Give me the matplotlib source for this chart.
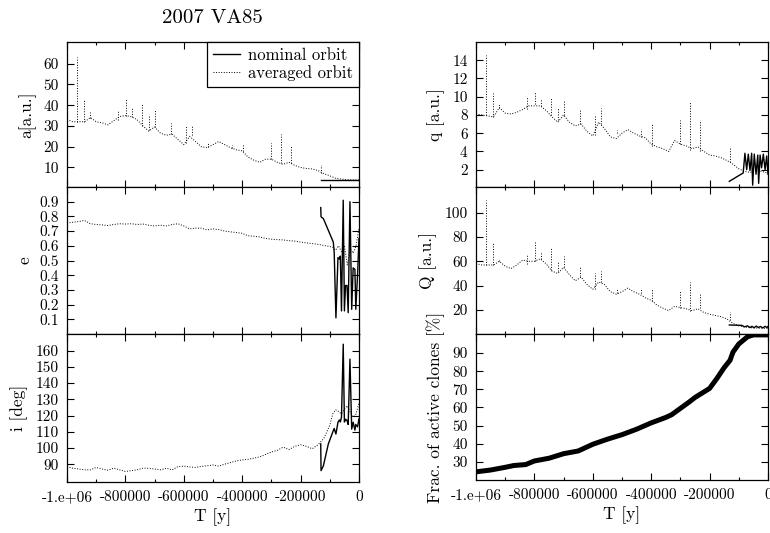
import numpy as np
import matplotlib
matplotlib.use("Agg")
import matplotlib.pyplot as plt
from matplotlib.ticker import MultipleLocator

plt.rcParams['font.family'] = ['cmr10', 'DejaVu Serif']
plt.rcParams['axes.formatter.use_mathtext'] = True

title = "2007 VA85"

# time grid of the averaged a, q, Q curves [y]
T_avg = [-1000000, -980000, -960000, -940000, -920000, -900000, -880000, -860000, -840000,
         -820000, -800000, -780000, -760000, -740000, -720000, -700000, -680000, -660000,
         -640000, -620000, -600000, -580000, -560000, -540000, -520000, -500000, -480000,
         -460000, -440000, -420000, -400000, -380000, -360000, -340000, -320000, -300000,
         -280000, -260000, -240000, -220000, -200000, -180000, -160000, -140000, -120000,
         -100000, -80000, -60000, -40000, -20000, 0]
a_avg = [33, 32, 32, 32, 34, 32, 31.5, 30.5, 32.5, 34.5, 35, 34.5, 33, 30, 27.5, 29.5,
         26.5, 25.5, 26, 23.5, 21, 25, 22.5, 20, 19.5, 21, 22.5, 21, 19.5, 18.5, 18, 15,
         13.5, 12.5, 14, 14, 12.5, 11.5, 12.5, 11, 10, 9.5, 9.3, 8.5, 7, 6, 4.8, 4.4, 4.1,
         4, 4]
q_avg = [8.1, 8, 7.9, 7.8, 8.8, 8.2, 8.1, 8.3, 8.6, 9, 9, 9, 8.5, 7.8, 7.2, 8, 7.2, 6.8,
         7, 6.2, 5.7, 7.2, 6.5, 5.6, 5.4, 6, 6.4, 6, 5.7, 5.5, 4.8, 4.5, 4.3, 4, 5.2, 4.8,
         4.6, 4.3, 4.5, 4, 3.6, 3.5, 3.3, 3, 2.6, 2.1, 1.8, 1.7, 1.9, 1.8, 1.6]
Q_avg = [58, 57, 57, 57, 60, 56, 54, 57, 61, 60, 60, 62, 58, 52, 50, 55, 49, 44, 47, 41,
         37, 43, 41, 35, 33, 35, 38, 35, 33, 30, 28, 24, 21.5, 19.5, 23, 22, 21, 19.5, 21,
         18, 16.5, 15.5, 14.5, 12.5, 9, 7, 6, 5.5, 5.2, 5, 5]

# spikes of the averaged orbit (shared times), base and peak values
T_spk = [-967000, -941000, -920000, -826000, -798000, -778000, -742000, -718000, -700000,
         -644000, -594000, -573000, -518000, -434000, -397000, -302000, -267000, -232000,
         -131000]
a_spk_base = [32, 32, 34, 33, 35, 34.5, 30, 28, 29.5, 26, 22, 25.5, 20, 19.5, 18, 14, 12, 12, 7.5]
a_spk_peak = [63, 42.5, 36.5, 37, 43.5, 38.5, 40.5, 35, 37.5, 31.5, 30.5, 30.5, 22.5, 21, 21.5,
              22, 26, 20.5, 11]
q_spk_base = [8, 7.8, 8.8, 8.6, 9.2, 9, 8, 7.5, 8, 7, 5.8, 7, 6, 5.6, 4.6, 4.8, 4.2, 4, 2.8]
q_spk_peak = [14.6, 10.4, 9.3, 10, 10.5, 9.7, 10, 8.8, 9.5, 8.6, 8, 8.8, 6.4, 6.5, 7, 7.5,
              9.5, 7.4, 4.5]
Q_spk_base = [57, 57, 60, 58, 60, 62, 53, 52, 55, 48, 37, 43, 34, 34, 27, 22, 19, 22, 12]
Q_spk_peak = [110, 75, 62, 66, 76, 68, 72, 60, 64, 56, 50, 52, 37, 37, 37, 36, 43, 34, 18]

# averaged e and i
T_ei = [-1000000, -980000, -960000, -940000, -920000, -900000, -880000, -860000, -840000,
        -820000, -800000, -780000, -760000, -740000, -720000, -700000, -680000, -660000,
        -640000, -620000, -600000, -580000, -560000, -540000, -520000, -500000, -480000,
        -460000, -440000, -420000, -400000, -380000, -360000, -340000, -320000, -300000,
        -280000, -260000, -240000, -220000, -200000, -180000, -160000, -140000, -120000,
        -100000, -90000, -80000, -70000, -60000, -50000, -40000, -30000, -20000, -10000, 0]
e_avg = [0.755, 0.76, 0.765, 0.772, 0.75, 0.745, 0.742, 0.738, 0.745, 0.75, 0.748, 0.75,
         0.745, 0.748, 0.74, 0.735, 0.74, 0.735, 0.745, 0.75, 0.735, 0.715, 0.72, 0.72,
         0.708, 0.715, 0.71, 0.7, 0.695, 0.69, 0.685, 0.668, 0.665, 0.66, 0.65, 0.645,
         0.642, 0.64, 0.635, 0.632, 0.625, 0.62, 0.615, 0.61, 0.602, 0.595, 0.59, 0.57,
         0.6, 0.56, 0.6, 0.47, 0.58, 0.55, 0.6, 0.72]
i_avg = [88.5, 87.5, 87, 86.5, 86.5, 88, 87, 86.3, 87.5, 86.5, 85.5, 86, 86.5, 87.5, 87.5,
         87, 86.5, 87.5, 86.5, 88.5, 88.8, 88.3, 88, 88.6, 89, 89.5, 88.8, 90, 91, 92, 92.6,
         93, 93.7, 94.5, 96, 97.5, 98.5, 100.5, 99, 101, 102, 101, 99.5, 102, 106, 114, 121,
         123.5, 122.5, 121, 124, 126, 122, 119, 121, 128]

# nominal orbit
T_nom = [-131000, -130000, -122000, -105000, -88000, -85000, -79000, -72000, -67000,
         -64000, -60000, -54000, -50000, -46000, -41000, -37000, -31000, -25000, -20000,
         -14000, -11000, -5000, 0]
e_nom = [0.86, 0.797, 0.785, 0.705, 0.625, 0.557, 0.11, 0.52, 0.51, 0.53, 0.157, 0.91,
         0.157, 0.33, 0.33, 0.145, 0.9, 0.168, 0.45, 0.44, 0.168, 0.4, 0.65]
i_nom = [102.5, 86, 89, 102.5, 110.7, 112, 108.6, 115.9, 117.3, 116, 119, 164, 116,
         117.7, 117, 114.5, 154.8, 111.6, 115.9, 111, 114.5, 113, 118]
T_a_nom = [-131000, 0]
a_nom = [4.0, 4.0]
T_q_nom = [-132500, -85000, -79000, -73000, -67500, -61600, -56000, -52500, -47000, -41000,
           -35000, -32000, -27000, -22000, -16000, -10000, -4500, 0]
q_nom = [0.72, 1.64, 3.8, 2.0, 3.7, 1.9, 3.8, 0.3, 3.7, 1.5, 3.6, 0.5, 3.6, 2.2, 3.7, 2.0,
         3.5, 1.5]
T_Q_nom = [-132500, -90000, -80000, -70000, -62000, -55000, -48000, -40000, -33000,
           -26000, -18000, -10000, -4000, 0]
Q_nom = [7.7, 7.4, 6.2, 7.0, 5.6, 6.6, 5.4, 6.8, 5.6, 6.5, 5.3, 6.6, 5.6, 6.5]

# fraction of active clones [%]
T_frac = [-1000000, -950000, -900000, -870000, -830000, -800000, -750000, -700000, -650000,
          -600000, -550000, -500000, -450000, -400000, -350000, -330000, -300000, -270000,
          -250000, -200000, -175000, -150000, -130000, -120000, -100000, -70000, -50000, 0]
frac = [24.5, 25.5, 27, 28, 28.5, 30.5, 32, 34.5, 36, 39.7, 42.5, 45, 48, 51.5, 54.5, 56,
        59.5, 63, 65.5, 70.5, 76, 82, 86, 90.5, 95, 99, 100, 100]

xticks = [-1000000, -800000, -600000, -400000, -200000, 0]
xticklabels = ['-1.e+06', '-800000', '-600000', '-400000', '-200000', '0']

fig = plt.figure(figsize=(7.7, 5.33), dpi=100)
W, H = 770, 533


def box(x0, y0, x1, y1):
    return [x0 / W, 1 - y1 / H, (x1 - x0) / W, (y1 - y0) / H]


ax_a = fig.add_axes(box(67, 42, 359, 187))
ax_e = fig.add_axes(box(67, 187, 359, 334))
ax_i = fig.add_axes(box(67, 334, 359, 482))
ax_q = fig.add_axes(box(476, 42, 768, 187))
ax_Q = fig.add_axes(box(476, 187, 768, 334))
ax_f = fig.add_axes(box(476, 334, 768, 480))

avg_kw = dict(color='black', linestyle=':', linewidth=0.7)
nom_kw = dict(color='black', linestyle='-', linewidth=1.0)

ax_a.plot(T_avg, a_avg, **avg_kw)
ax_a.vlines(T_spk, a_spk_base, a_spk_peak, **avg_kw)
ax_a.plot(T_a_nom, a_nom, **nom_kw)
ax_q.plot(T_avg, q_avg, **avg_kw)
ax_q.vlines(T_spk, q_spk_base, q_spk_peak, **avg_kw)
ax_q.plot(T_q_nom, q_nom, **nom_kw)
ax_Q.plot(T_avg, Q_avg, **avg_kw)
ax_Q.vlines(T_spk, Q_spk_base, Q_spk_peak, **avg_kw)
ax_Q.plot(T_Q_nom, Q_nom, **nom_kw)
ax_e.plot(T_ei, e_avg, **avg_kw)
ax_e.plot(T_nom, e_nom, **nom_kw)
ax_i.plot(T_ei, i_avg, **avg_kw)
ax_i.plot(T_nom, i_nom, **nom_kw)
ax_f.plot(T_frac, frac, color='black', linewidth=3.6, solid_capstyle='butt')

# legend
ax_a.plot([], [], label='nominal orbit', **nom_kw)
ax_a.plot([], [], label='averaged orbit', **avg_kw)
h, l = ax_a.get_legend_handles_labels()
leg = ax_a.legend(h[-2:], l[-2:], loc='upper right', borderaxespad=0, fancybox=False,
                  framealpha=1, edgecolor='black', fontsize=12, handlelength=1.6,
                  handletextpad=0.5, borderpad=0.35, labelspacing=0.12)
leg.get_frame().set_linewidth(0.9)

ylims = {ax_a: (0.6, 70.4), ax_e: (0, 1.0), ax_i: (79, 170.3),
         ax_q: (0.1, 16), ax_Q: (0.3, 121), ax_f: (20, 100.5)}
yticks = {ax_a: [10, 20, 30, 40, 50, 60],
          ax_e: [0.1, 0.2, 0.3, 0.4, 0.5, 0.6, 0.7, 0.8, 0.9],
          ax_i: [90, 100, 110, 120, 130, 140, 150, 160],
          ax_q: [2, 4, 6, 8, 10, 12, 14],
          ax_Q: [20, 40, 60, 80, 100],
          ax_f: [30, 40, 50, 60, 70, 80, 90]}
ylabels = {ax_a: 'a[a.u.]', ax_e: 'e', ax_i: 'i [deg]',
           ax_q: 'q [a.u.]', ax_Q: 'Q [a.u.]', ax_f: 'Frac. of active clones [%]'}

for ax in [ax_a, ax_e, ax_i, ax_q, ax_Q, ax_f]:
    ax.set_xlim(-1000000, 0)
    ax.set_ylim(*ylims[ax])
    ax.set_xticks(xticks)
    ax.xaxis.set_minor_locator(MultipleLocator(100000))
    ax.set_yticks(yticks[ax])
    ax.set_yticklabels([('%g' % v) for v in yticks[ax]])
    if ax in (ax_i, ax_f):
        ax.set_xticklabels(xticklabels)
        ax.set_xlabel('T [y]', fontsize=12.5, labelpad=3)
    else:
        ax.set_xticklabels([])
    ax.set_ylabel(ylabels[ax], fontsize=12.5, labelpad=5)
    ax.tick_params(direction='in', top=True, right=True, which='both', labelsize=11,
                   width=0.8, pad=6)
    ax.tick_params(which='major', length=5)
    ax.tick_params(which='minor', length=2.5)
    for s in ax.spines.values():
        s.set_linewidth(0.9)

fig.text(212 / W, 1 - 18 / H, title, ha='center', va='center', fontsize=15)

fig.savefig('out.png', dpi=100)
